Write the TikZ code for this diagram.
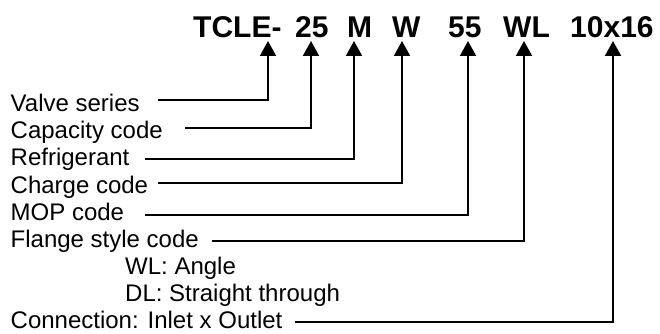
\documentclass[tikz,border=0pt]{standalone}
\usepackage{fontspec}
\setmainfont{Liberation Sans}
\usetikzlibrary{arrows.meta}
\begin{document}
\begin{tikzpicture}[x=1pt,y=-1pt,
  titlepart/.style={font=\bfseries\fontsize{30}{30}\selectfont, anchor=base west, inner sep=0pt},
  lab/.style={font=\fontsize{24}{27}\selectfont, anchor=base west, inner sep=0pt},
  conn/.style={line width=2pt, -{Triangle[length=15pt,width=16pt]}}]
\useasboundingbox (0,0) rectangle (660,334);
% title pieces
\node[titlepart] (p1) at (193,38) {TCLE-};
\node[titlepart] (p2) at (295,38) {25};
\node[titlepart] (p3) at (347,38) {M};
\node[titlepart] (p4) at (392,38) {W};
\node[titlepart] (p5) at (448,38) {55};
\node[titlepart] (p6) at (503,38) {WL};
\node[titlepart] (p7) at (570,38) {10x16};
% arrow tips
\coordinate (t1) at (268,41);
\coordinate (t2) at (311,41);
\coordinate (t3) at (354,41);
\coordinate (t4) at (402,41);
\coordinate (t5) at (468,41);
\coordinate (t6) at (524,41);
\coordinate (t7) at (613,41);
% labels
\node[lab] (l1) at (10.5,111.7) {Valve series};
\node[lab] (l2) at (10.5,138.8) {Capacity code};
\node[lab] (l3) at (10.5,165.9) {Refrigerant};
\node[lab] (l4) at (10.5,193.0) {Charge code};
\node[lab] (l5) at (10.5,220.1) {MOP code};
\node[lab] (l6) at (10.5,247.2) {Flange style code};
\node[lab] (l7) at (125,274.3) {WL: Angle};
\node[lab] (l8) at (125,301.4) {DL: Straight through};
\node[lab] (l9) at (10.5,328.5) {Connection: Inlet x Outlet};
% connectors
\draw[conn] (l1.base east) ++(18,-11.7) -| (t1);
\draw[conn] (l2.base east) ++(22,-10.8) -| (t2);
\draw[conn] (l3.base east) ++(15,-6.9) -| (t3);
\draw[conn] (l4.base east) ++(10,-10) -| (t4);
\draw[conn] (l5.base east) ++(21,-5.1) -| (t5);
\draw[conn] (l6.base east) ++(13,-6.2) -| (t6);
\draw[conn] (l9.base east) ++(12.5,-6.5) -| (t7);
\end{tikzpicture}
\end{document}
